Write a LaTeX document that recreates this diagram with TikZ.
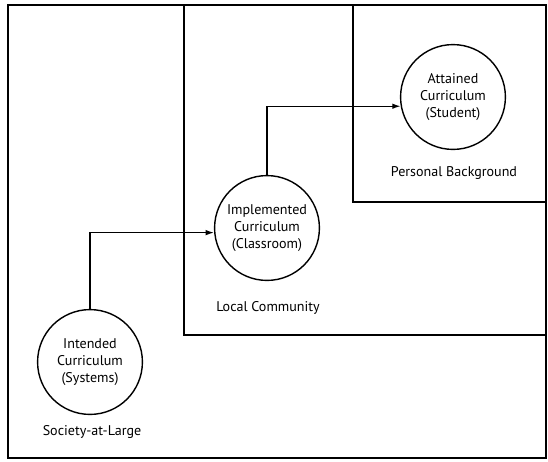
\documentclass[tikz,border=0pt]{standalone}
\usepackage{fontspec}
\setmainfont{PT Sans}
\usetikzlibrary{arrows.meta}

\begin{document}
\begin{tikzpicture}[x=0.025cm, y=-0.025cm, line width=1pt,
  curric/.style={draw, circle, minimum size=2.62cm, align=center, inner sep=0pt,
    font=\fontsize{10}{12}\selectfont},
  niveau/.style={font=\fontsize{10}{12}\selectfont},
  fleche/.style={-{Latex[length=6pt,width=4pt]}}]

\useasboundingbox (0,0) rectangle (548,462);

% Cadres
\draw (8,5) rectangle (546,458);
\draw (184,5) -- (184,335) -- (546,335);
\draw (353,5) -- (353,202) -- (546,202);

% Curricula
\node[curric] (intended) at (90,362) {Intended\\Curriculum\\(Systems)};
\node[curric] (implemented) at (267,228) {Implemented\\Curriculum\\(Classroom)};
\node[curric] (attained) at (453,97) {Attained\\Curriculum\\(Student)};

% Niveaux
\node[niveau] (society) at (92,432) {Society-at-Large};
\node[niveau] (local) at (268,308) {Local Community};
\node[niveau] (personal) at (454,173) {Personal Background};

% Fleches
\draw[fleche] (intended.north) |- (implemented.185);
\draw[fleche] (implemented.north) |- (attained.190);

\end{tikzpicture}
\end{document}
